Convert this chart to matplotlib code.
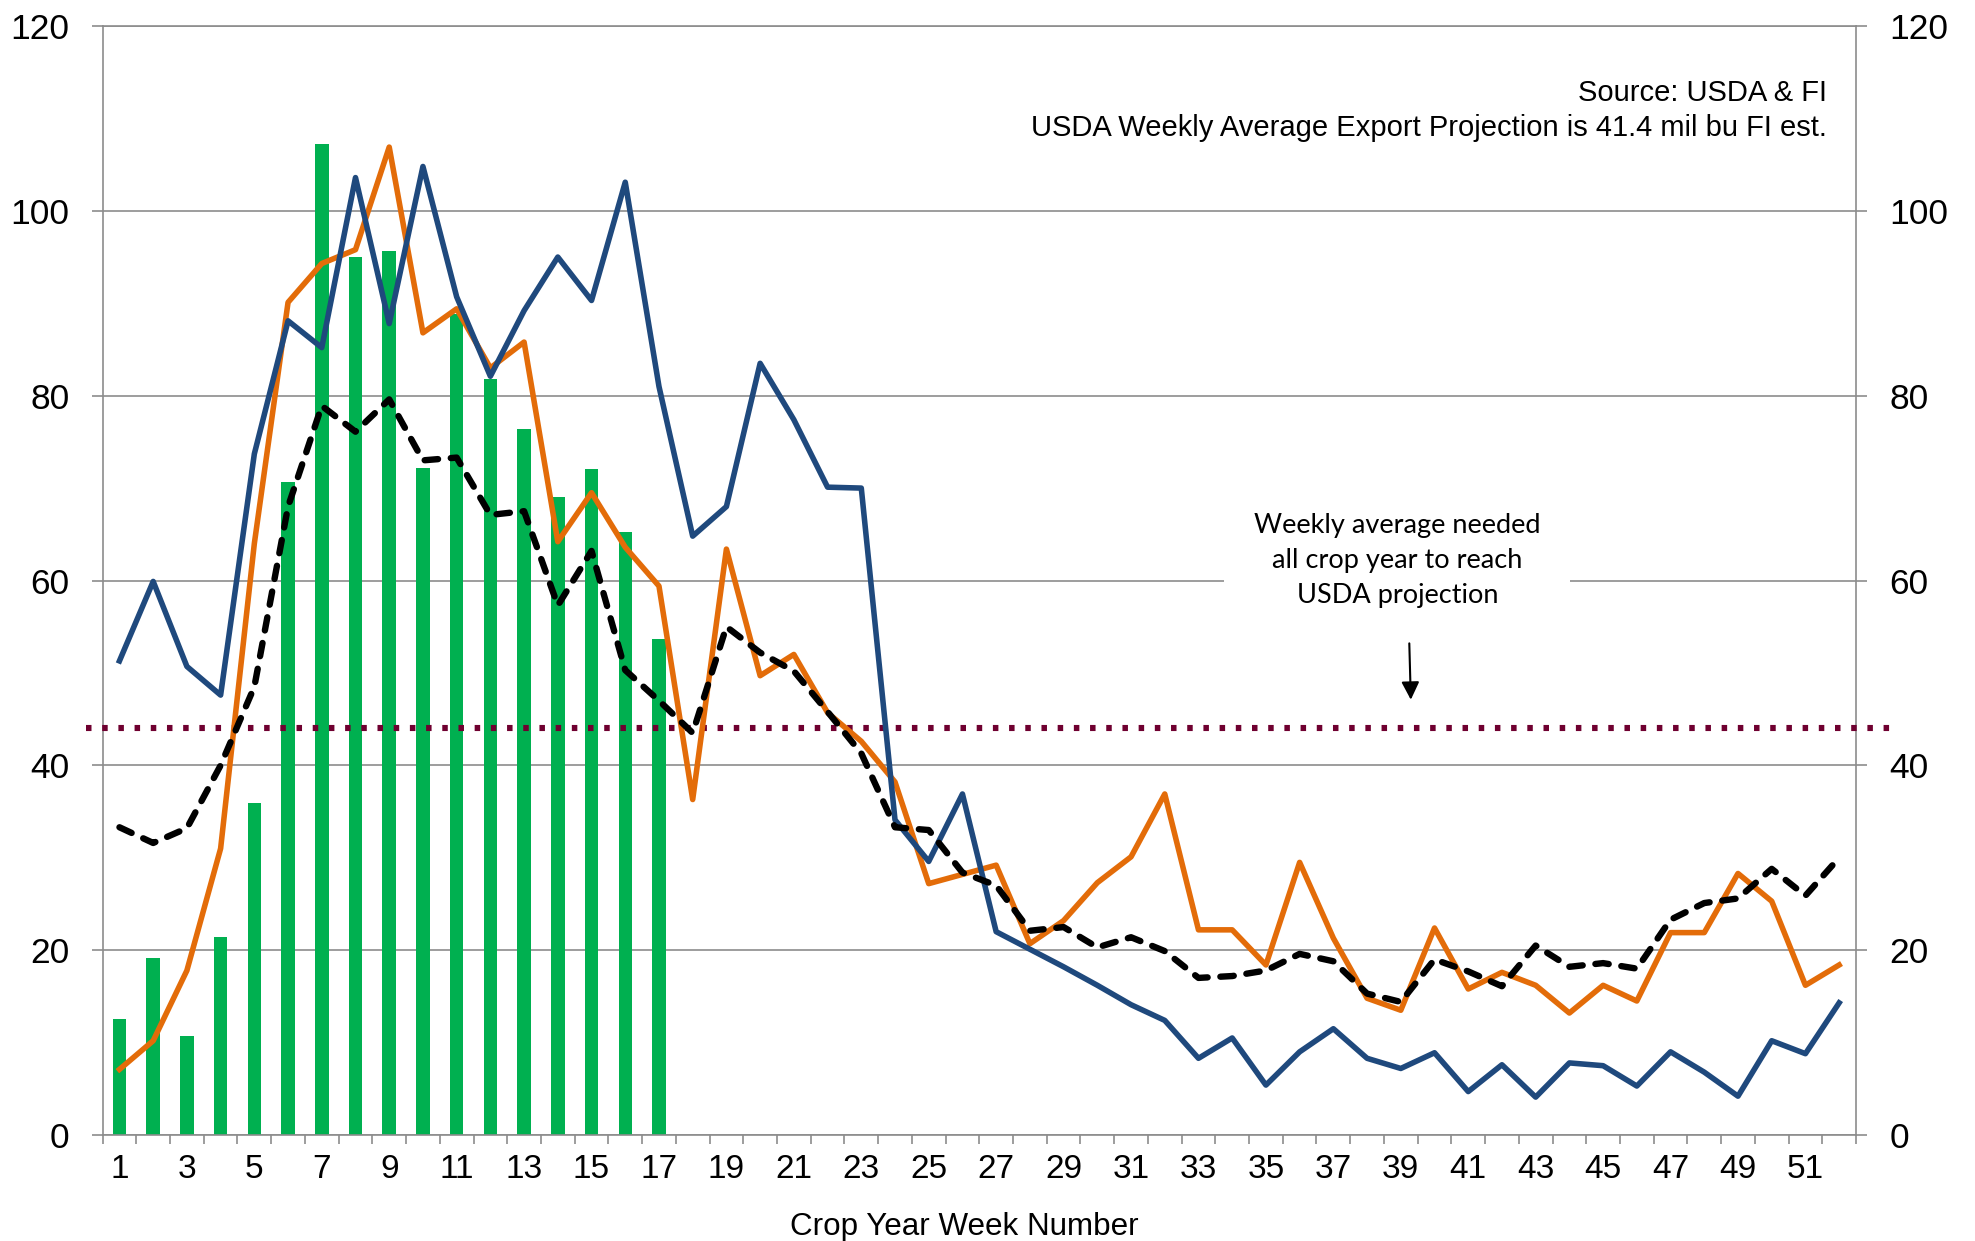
import numpy as np
import matplotlib.pyplot as plt

# Weekly export inspections, mil bu
weeks = list(range(1, 53))
current_year = [12.5, 19.1, 10.7, 21.4, 35.9, 70.7, 107.2, 95.0, 95.7, 72.2, 88.8, 81.8,
                76.4, 69.0, 72.1, 65.2, 53.7]
last_year = [51.3, 59.9, 50.7, 47.6, 73.7, 88.1, 85.2, 103.6, 87.8, 104.8, 90.7, 82.1, 89.2,
             95.0, 90.3, 103.1, 81.0, 64.8, 68.0, 83.5, 77.4, 70.1, 70.0, 34.1, 29.6, 36.9,
             22.0, 20.1, 18.2, 16.2, 14.1, 12.4, 8.3, 10.5, 5.4, 9.0, 11.5, 8.3, 7.2, 8.9,
             4.7, 7.6, 4.1, 7.8, 7.5, 5.3, 9.0, 6.8, 4.2, 10.2, 8.8, 14.3]
two_years_ago = [7.1, 10.2, 17.8, 31.0, 64.0, 90.1, 94.3, 95.8, 106.9, 86.8, 89.4, 83.0, 85.8,
                 64.2, 69.5, 63.6, 59.4, 36.3, 63.4, 49.7, 52.0, 45.7, 42.6, 38.2, 27.2, 28.2,
                 29.2, 20.7, 23.2, 27.3, 30.1, 36.9, 22.2, 22.2, 18.4, 29.5, 21.3, 14.8, 13.5,
                 22.4, 15.8, 17.6, 16.2, 13.2, 16.2, 14.5, 21.9, 21.9, 28.3, 25.3, 16.2, 18.4]
avg_years = [33.3, 31.6, 33.2, 40.0, 48.5, 68.0, 78.9, 76.1, 79.6, 73.0, 73.3, 67.1, 67.5,
             57.3, 63.2, 50.3, 47.0, 43.5, 55.0, 52.2, 50.2, 45.8, 41.3, 33.3, 33.0, 28.4,
             27.0, 22.1, 22.5, 20.3, 21.4, 19.9, 17.0, 17.2, 17.8, 19.6, 18.8, 15.3, 14.4,
             19.0, 17.7, 16.1, 20.5, 18.2, 18.6, 18.0, 23.3, 25.1, 25.6, 28.8, 25.9, 30.0]
needed_avg = 44.0
y_ticks = [0, 20, 40, 60, 80, 100, 120]

plt.rcParams['font.family'] = ['Liberation Sans', 'DejaVu Sans']
grey = '#8C8C8C'

fig = plt.figure(figsize=(19.75, 12.41), dpi=100)
ax = fig.add_axes([0.05195, 0.08541, 0.88780, 0.89363])

ax.bar(weeks[:len(current_year)], current_year, width=0.4, color='#00B050', zorder=2)
ax.plot([0.0, 53.7], [needed_avg, needed_avg], color='#6F0030', lw=4.4,
        linestyle=(0, (0.9, 1.75)), dash_capstyle='butt', clip_on=False, zorder=3)
ax.plot(weeks, two_years_ago, color='#E36C09', lw=4.0, zorder=4)
ax.plot(weeks, last_year, color='#1F497D', lw=4.0, zorder=5)
ax.plot(weeks, avg_years, color='black', lw=4.6, linestyle=(0, (2.1, 2.0)),
        dash_capstyle='round', zorder=6)

# axes
ax.set_xlim(0.5, 52.5)
ax.set_ylim(0, 120)
ax.set_yticks(y_ticks)
ax.set_xticks(weeks[::2])
ax.set_xticklabels([str(w) for w in weeks[::2]])
ax.set_xticks(np.arange(0.5, 53, 1), minor=True)
ax.tick_params(axis='x', which='major', length=0, pad=14, labelsize=24)
ax.tick_params(axis='x', which='minor', length=6.5, width=1.2, color=grey, direction='out')
ax.tick_params(axis='y', length=8, width=1.2, color=grey, direction='out', pad=16,
               labelsize=25.5, right=True, labelright=True)
ax.grid(axis='y', color=grey, lw=1.2, zorder=0)
ax.set_axisbelow(True)
for side in ['left', 'right', 'bottom', 'top']:
    ax.spines[side].set_color(grey)
    ax.spines[side].set_linewidth(1.2)

fig.text(964 / 1975, 1 - 1226.7 / 1241, 'Crop Year Week Number', ha='center', va='center',
         fontsize=22.6)

# notes
ax.text(51.64, 112.8, 'Source: USDA & FI', ha='right', va='center', fontsize=21)
ax.text(51.64, 109.0, 'USDA Weekly Average Export Projection is 41.4 mil bu FI est.',
        ha='right', va='center', fontsize=21)

ax.text(38.9, 62.2, 'Weekly average needed\nall crop year to reach\nUSDA projection',
        ha='center', va='center', multialignment='center', fontsize=19.5, family='Lato',
        linespacing=1.5, zorder=7,
        bbox=dict(boxstyle='square,pad=1.1', facecolor='white', edgecolor='none'))
ax.annotate('', xy=(39.3, 46.8), xytext=(39.25, 53.5),
            arrowprops=dict(arrowstyle='-|>', color='black', lw=1.5, mutation_scale=27),
            zorder=8)

plt.savefig('out.png', dpi=100)
